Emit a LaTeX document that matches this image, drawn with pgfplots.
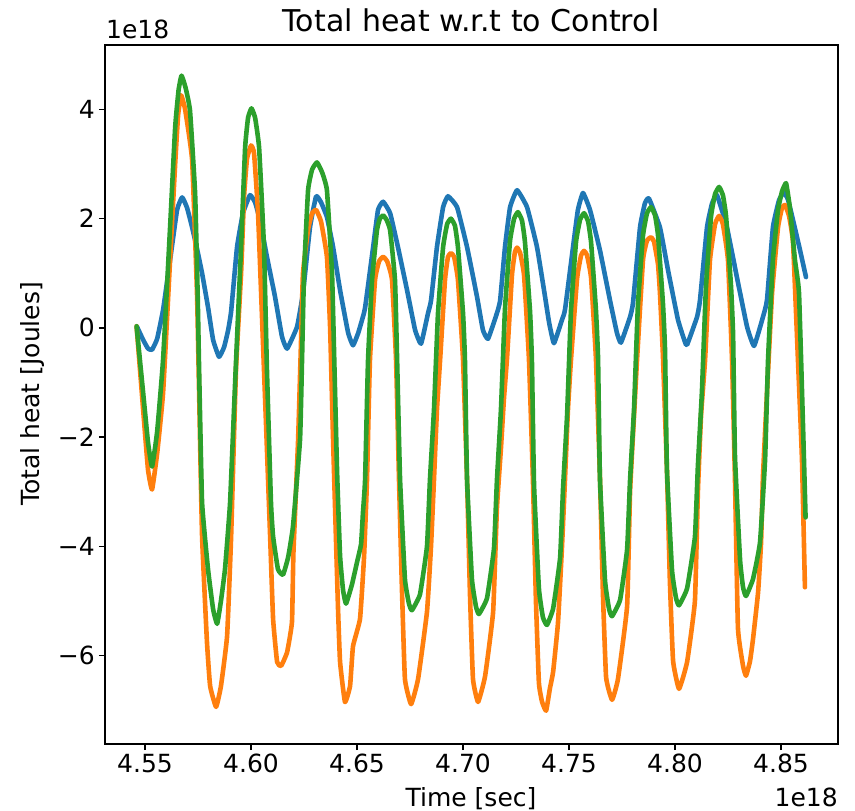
\documentclass[border=0pt]{standalone}
\usepackage{fontspec}
\setmainfont{DejaVu Sans}
\usepackage{pgfplots}
\pgfplotsset{compat=1.18}
\definecolor{c0}{HTML}{1F77B4}
\definecolor{c1}{HTML}{FF7F0E}
\definecolor{c2}{HTML}{2CA02C}
\newcommand{\lab}{\fontsize{25bp}{30bp}\selectfont}
\begin{document}
\begin{tikzpicture}
\useasboundingbox (-105bp,-67bp) rectangle (750bp,744bp);
\begin{axis}[
  at={(0,0)}, anchor=south west,
  scale only axis, width=733bp, height=699bp,
  xmin=4.5311, xmax=4.8769, ymin=-7.62, ymax=5.18,
  axis line style={line width=1.6bp, black},
  xtick={4.55,4.60,4.65,4.70,4.75,4.80,4.85},
  xticklabels={4.55,4.60,4.65,4.70,4.75,4.80,4.85},
  ytick={-6,-4,-2,0,2,4},
  yticklabels={−6,−4,−2,0,2,4},
  xtick pos=left, ytick pos=left,
  tick align=outside, major tick length=6bp,
  tick style={line width=1.4bp, black},
  tick label style={font=\lab},
  xticklabel style={inner sep=0pt, anchor=north, yshift=-4bp},
  yticklabel style={inner sep=0pt, anchor=east, xshift=-4bp},
  every axis plot/.append style={line width=4.6bp, line join=round, line cap=round, smooth, tension=0.22},
]
\addplot[c0] coordinates {
(4.5462,0.02)(4.5491,-0.22)(4.5514,-0.38)(4.5533,-0.40)(4.5557,-0.20)(4.5585,0.33)(4.5618,1.24)(4.5651,2.16)(4.5675,2.39)(4.5698,2.20)
(4.5722,1.84)(4.5745,1.45)(4.5769,1.00)(4.5797,0.38)(4.5821,-0.22)(4.5849,-0.53)(4.5873,-0.35)(4.5892,-0.04)(4.5906,0.30)(4.5934,1.48)
(4.5962,2.10)(4.5995,2.43)(4.6019,2.30)(4.6042,1.97)(4.6075,1.30)(4.6113,0.57)(4.6146,-0.16)(4.6170,-0.38)(4.6217,0.02)(4.6245,0.64)
(4.6278,1.84)(4.6307,2.41)(4.6330,2.30)(4.6358,2.03)(4.6387,1.48)(4.6420,0.69)(4.6458,-0.09)(4.6481,-0.32)(4.6505,-0.10)(4.6524,0.15)
(4.6538,0.37)(4.6576,1.48)(4.6599,2.16)(4.6623,2.31)(4.6656,2.10)(4.6693,1.48)(4.6736,0.69)(4.6774,-0.04)(4.6802,-0.29)(4.6835,0.27)
(4.6849,0.50)(4.6877,1.48)(4.6906,2.21)(4.6929,2.41)(4.6972,2.21)(4.7019,1.48)(4.7066,0.57)(4.7094,-0.04)(4.7118,-0.20)(4.7160,0.27)
(4.7175,0.50)(4.7198,1.48)(4.7222,2.21)(4.7255,2.52)(4.7302,2.21)(4.7349,1.48)(4.7387,0.57)(4.7406,0.10)(4.7429,-0.28)(4.7467,0.15)
(4.7481,0.33)(4.7519,1.48)(4.7542,2.16)(4.7566,2.47)(4.7599,2.16)(4.7646,1.42)(4.7693,0.51)(4.7726,-0.09)(4.7745,-0.27)(4.7788,0.20)
(4.7802,0.46)(4.7835,1.84)(4.7858,2.28)(4.7877,2.37)(4.7929,1.84)(4.7967,1.06)(4.8014,0.15)(4.8047,-0.26)(4.8057,-0.31)(4.8104,0.20)
(4.8118,0.51)(4.8151,1.84)(4.8175,2.28)(4.8198,2.43)(4.8245,1.84)(4.8292,0.93)(4.8340,0.02)(4.8373,-0.33)(4.8415,0.20)(4.8434,0.51)
(4.8462,1.84)(4.8491,2.34)(4.8514,2.48)(4.8533,2.35)(4.8557,1.97)(4.8590,1.42)(4.8618,0.93)
};
\addplot[c1] coordinates {
(4.5460,0.03)(4.5491,-1.50)(4.5514,-2.60)(4.5533,-2.96)(4.5557,-2.30)(4.5585,-1.19)(4.5618,1.24)(4.5642,3.00)(4.5656,3.90)(4.5670,4.26)
(4.5689,4.00)(4.5722,3.07)(4.5745,0.64)(4.5755,-1.19)(4.5769,-3.82)(4.5792,-5.75)(4.5807,-6.56)(4.5835,-6.94)(4.5858,-6.56)(4.5887,-5.64)
(4.5906,-3.82)(4.5929,-0.77)(4.5953,1.00)(4.5967,2.40)(4.5981,3.10)(4.6000,3.34)(4.6014,3.20)(4.6033,2.10)(4.6057,-0.35)(4.6071,-1.80)
(4.6090,-3.82)(4.6104,-5.33)(4.6123,-6.12)(4.6142,-6.19)(4.6170,-5.94)(4.6193,-5.39)(4.6200,-4.11)(4.6222,-2.05)(4.6236,-0.22)(4.6245,1.00)
(4.6269,1.80)(4.6288,2.10)(4.6307,2.16)(4.6330,1.95)(4.6358,1.30)(4.6373,0.00)(4.6387,-2.05)(4.6410,-5.10)(4.6420,-6.12)(4.6443,-6.85)
(4.6467,-6.56)(4.6481,-5.83)(4.6514,-5.33)(4.6533,-4.20)(4.6547,-2.78)(4.6561,-0.58)(4.6585,0.88)(4.6604,1.22)(4.6623,1.30)(4.6642,1.22)
(4.6665,0.88)(4.6684,-0.58)(4.6698,-2.78)(4.6712,-4.80)(4.6726,-6.43)(4.6755,-6.89)(4.6788,-6.43)(4.6830,-5.20)(4.6849,-4.00)(4.6863,-2.78)
(4.6877,-1.50)(4.6892,-0.58)(4.6915,0.88)(4.6929,1.30)(4.6943,1.37)(4.6958,1.30)(4.6976,0.88)(4.7000,-0.58)(4.7019,-2.78)(4.7033,-4.90)
(4.7047,-6.43)(4.7071,-6.85)(4.7104,-6.38)(4.7142,-5.20)(4.7160,-3.30)(4.7179,-2.20)(4.7193,-1.30)(4.7208,-0.53)(4.7231,0.97)(4.7245,1.39)
(4.7255,1.47)(4.7269,1.38)(4.7288,0.96)(4.7311,-0.57)(4.7330,-2.81)(4.7344,-5.00)(4.7358,-6.50)(4.7373,-6.85)(4.7392,-7.01)(4.7410,-6.60)
(4.7425,-6.30)(4.7448,-5.40)(4.7467,-4.00)(4.7481,-2.78)(4.7495,-1.50)(4.7509,-0.60)(4.7538,0.90)(4.7557,1.33)(4.7571,1.41)(4.7585,1.33)
(4.7604,0.92)(4.7627,-0.56)(4.7646,-2.74)(4.7660,-4.86)(4.7675,-6.40)(4.7703,-6.81)(4.7731,-6.43)(4.7774,-5.10)(4.7788,-3.00)(4.7807,-1.60)
(4.7821,-0.58)(4.7849,1.24)(4.7868,1.60)(4.7887,1.66)(4.7901,1.58)(4.7920,1.16)(4.7929,0.64)(4.7943,-0.50)(4.7962,-2.60)(4.7976,-4.65)
(4.7991,-6.10)(4.8019,-6.61)(4.8057,-6.12)(4.8094,-5.00)(4.8108,-3.00)(4.8123,-1.60)(4.8142,-0.58)(4.8165,1.24)(4.8189,1.90)(4.8208,2.05)
(4.8226,1.90)(4.8250,1.24)(4.8269,-0.58)(4.8283,-2.78)(4.8297,-5.50)(4.8321,-6.19)(4.8335,-6.37)(4.8354,-6.10)(4.8368,-5.70)(4.8392,-4.84)
(4.8406,-3.93)(4.8415,-2.72)(4.8434,-1.19)(4.8458,0.64)(4.8486,1.84)(4.8505,2.20)(4.8519,2.25)(4.8538,2.05)(4.8557,1.55)(4.8580,-0.58)
(4.8599,-2.41)(4.8613,-4.75)
};
\addplot[c2] coordinates {
(4.5460,0.03)(4.5491,-1.19)(4.5514,-2.10)(4.5533,-2.54)(4.5557,-1.90)(4.5585,-0.58)(4.5618,1.84)(4.5642,3.67)(4.5658,4.35)(4.5672,4.62)
(4.5691,4.40)(4.5712,3.98)(4.5736,2.47)(4.5748,0.64)(4.5755,-0.77)(4.5769,-3.20)(4.5797,-4.42)(4.5821,-5.15)(4.5840,-5.42)(4.5858,-5.00)
(4.5877,-4.42)(4.5901,-3.20)(4.5927,-0.80)(4.5953,1.48)(4.5972,3.30)(4.5986,3.85)(4.6002,4.02)(4.6019,3.85)(4.6038,3.30)(4.6061,1.48)
(4.6075,-0.77)(4.6094,-3.20)(4.6104,-3.82)(4.6127,-4.42)(4.6151,-4.52)(4.6175,-4.20)(4.6198,-3.63)(4.6231,-2.05)(4.6241,-0.50)(4.6250,1.00)
(4.6269,2.52)(4.6288,2.90)(4.6311,3.03)(4.6335,2.85)(4.6358,2.52)(4.6382,1.00)(4.6392,-0.50)(4.6406,-2.65)(4.6420,-4.18)(4.6434,-4.80)
(4.6448,-5.05)(4.6476,-4.70)(4.6500,-4.29)(4.6519,-3.96)(4.6528,-3.38)(4.6538,-2.78)(4.6552,-0.58)(4.6571,0.88)(4.6594,1.79)(4.6608,2.00)
(4.6623,2.06)(4.6639,1.98)(4.6656,1.79)(4.6679,0.88)(4.6689,-0.58)(4.6703,-2.78)(4.6726,-4.60)(4.6745,-5.05)(4.6759,-5.17)(4.6797,-4.88)
(4.6830,-4.00)(4.6844,-2.78)(4.6863,-1.50)(4.6882,0.27)(4.6906,1.48)(4.6925,1.90)(4.6943,2.00)(4.6962,1.87)(4.6976,1.48)(4.7000,0.27)
(4.7009,-0.58)(4.7019,-2.78)(4.7042,-4.60)(4.7061,-5.10)(4.7075,-5.24)(4.7113,-4.95)(4.7146,-4.04)(4.7160,-2.79)(4.7179,-1.49)(4.7198,0.35)
(4.7222,1.60)(4.7241,2.00)(4.7259,2.12)(4.7278,1.97)(4.7292,1.58)(4.7316,0.31)(4.7325,-0.60)(4.7335,-2.87)(4.7358,-4.77)(4.7377,-5.30)
(4.7396,-5.44)(4.7425,-5.14)(4.7458,-4.21)(4.7472,-2.93)(4.7491,-1.59)(4.7509,0.29)(4.7533,1.57)(4.7552,1.98)(4.7571,2.10)(4.7590,1.95)
(4.7604,1.57)(4.7627,0.33)(4.7637,-0.56)(4.7646,-2.77)(4.7670,-4.63)(4.7689,-5.15)(4.7703,-5.28)(4.7741,-4.98)(4.7774,-4.06)(4.7788,-2.79)
(4.7807,-1.46)(4.7825,0.41)(4.7849,1.69)(4.7868,2.10)(4.7887,2.21)(4.7906,2.06)(4.7920,1.69)(4.7943,0.46)(4.7953,-0.41)(4.7962,-2.60)
(4.7986,-4.44)(4.8005,-4.95)(4.8019,-5.08)(4.8057,-4.77)(4.8094,-3.83)(4.8108,-2.53)(4.8127,-1.17)(4.8146,0.74)(4.8170,2.04)(4.8189,2.45)
(4.8208,2.58)(4.8226,2.43)(4.8241,2.04)(4.8264,0.78)(4.8274,-0.12)(4.8283,-2.36)(4.8307,-4.25)(4.8321,-4.75)(4.8335,-4.91)(4.8368,-4.60)
(4.8401,-3.93)(4.8425,-2.41)(4.8439,-0.58)(4.8462,1.24)(4.8486,2.16)(4.8505,2.50)(4.8524,2.65)(4.8542,2.20)(4.8566,1.24)(4.8585,0.64)
(4.8604,-1.80)(4.8616,-3.47)
};
\end{axis}
\node[anchor=base, inner sep=0pt, font=\fontsize{30bp}{36bp}\selectfont] at (366bp,712bp) {Total heat w.r.t to Control};
\node[anchor=base west, inner sep=0pt, font=\lab] at (1bp,705bp) {1e18};
\node[anchor=base, inner sep=0pt, font=\lab] at (366bp,-62bp) {Time [sec]};
\node[anchor=base east, inner sep=0pt, font=\lab] at (733bp,-62bp) {1e18};
\node[anchor=base, inner sep=0pt, rotate=90, font=\lab] at (-65bp,350bp) {Total heat [Joules]};
\end{tikzpicture}
\end{document}
